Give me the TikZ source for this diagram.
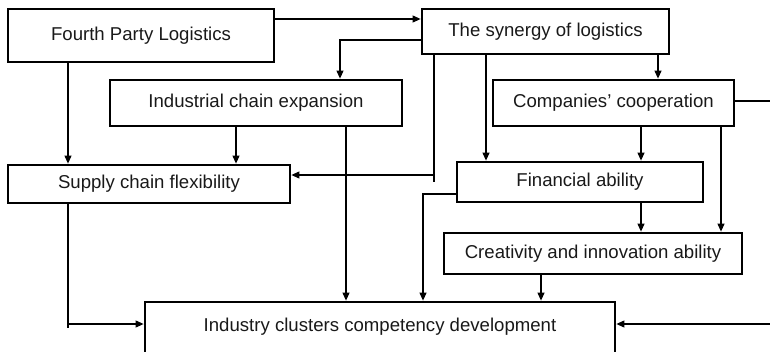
\documentclass[tikz,border=0pt]{standalone}
\usepackage{fontspec}
\setmainfont{Liberation Sans}
\usetikzlibrary{arrows.meta}
\begin{document}
\begin{tikzpicture}[x=1pt,y=-1pt,
  box/.style={draw=black,line width=2.8pt,rectangle,inner sep=0pt,align=center,
    font=\fontsize{18.6}{22}\selectfont,text=black!90},
  conn/.style={draw=black,line width=1.1pt},
  arr/.style={conn,-{Triangle[length=8pt,width=7pt]}}]
\useasboundingbox (0,0) rectangle (770,351);
\node[box,minimum width=266pt,minimum height=53pt] (fpl) at (141,35.5) {Fourth Party Logistics};
\node[box,minimum width=247pt,minimum height=45pt] (syn) at (545.5,31.5) {The synergy of logistics};
\node[box,minimum width=292pt,minimum height=46pt] (ice) at (256,103) {Industrial chain expansion};
\node[box,minimum width=241pt,minimum height=46pt] (coop) at (613.5,103) {Companies’ cooperation};
\node[box,minimum width=282pt,minimum height=38pt] (scf) at (149,184) {Supply chain flexibility};
\node[box,minimum width=246pt,minimum height=40pt] (fin) at (580,182) {Financial ability};
\node[box,minimum width=298pt,minimum height=41pt] (cre) at (593,253.5) {Creativity and innovation ability};
\node[box,minimum width=470pt,minimum height=54pt,text depth=0pt] (ind) at (380,329) {};
\node[font=\fontsize{18.6}{22}\selectfont,text=black!90,inner sep=0pt] (indt) at (380,327) {Industry clusters competency development};
\coordinate (stubA) at (434,182);
\coordinate (stubB) at (68,328);
\coordinate (farR) at (790,101);
% connectors
\draw[arr] (fpl.east |- 0,19) -- (syn.west |- 0,19);
\draw[arr] (syn.west |- 0,40) -| (340,0 |- ice.north);
\draw[conn] (syn.south -| 434,0) -- (stubA);
\draw[arr] (434,175) -- (scf.east |- 0,175);
\draw[arr] (syn.south -| 486,0) -- (fin.north -| 486,0);
\draw[arr] (syn.south -| 658,0) -- (coop.north -| 658,0);
\draw[arr] (coop.east |- 0,101) -- (farR) |- (ind.east |- 0,324);
\draw[arr] (coop.south -| 641,0) -- (fin.north -| 641,0);
\draw[arr] (coop.south -| 721,0) -- (cre.north -| 721,0);
\draw[arr] (fin.south -| 641,0) -- (cre.north -| 641,0);
\draw[arr] (fin.west |- 0,194) -| (423,0 |- ind.north);
\draw[arr] (cre.south -| 541,0) -- (ind.north -| 541,0);
\draw[arr] (ice.south -| 236,0) -- (scf.north -| 236,0);
\draw[arr] (ice.south -| 346,0) -- (ind.north -| 346,0);
\draw[arr] (fpl.south -| 68,0) -- (scf.north -| 68,0);
\draw[conn] (scf.south -| 68,0) -- (stubB);
\draw[arr] (68,324) -- (ind.west |- 0,324);
\end{tikzpicture}
\end{document}
